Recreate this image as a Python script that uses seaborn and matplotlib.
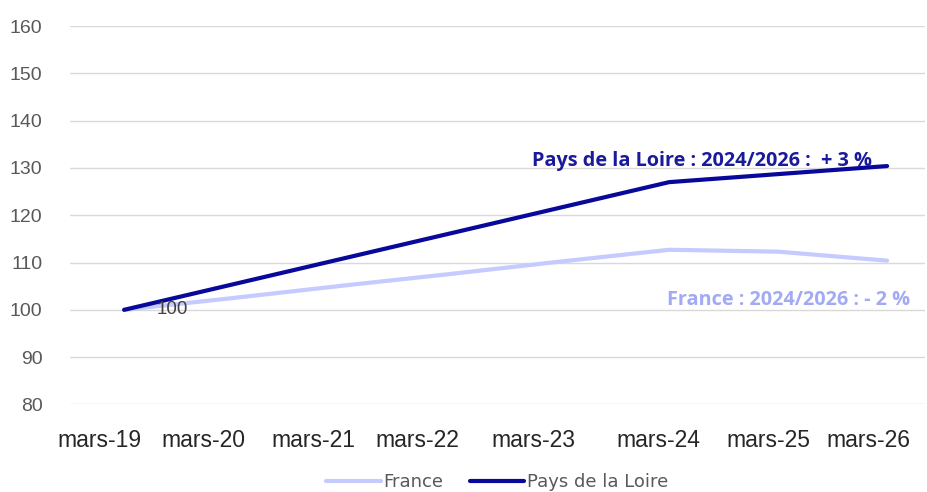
import pandas as pd
import matplotlib.pyplot as plt
import seaborn as sns

# données (indice base 100 en mars 2019)
annees = [2019, 2020, 2021, 2022, 2023, 2024, 2025, 2026]
france = [100, 102.5, 105.1, 107.6, 110.2, 112.7, 112.3, 110.4]
pdl = [100, 105.4, 110.8, 116.2, 121.6, 127.0, 128.7, 130.4]

labels_x = ['mars-19', 'mars-20', 'mars-21', 'mars-22', 'mars-23',
            'mars-24', 'mars-25', 'mars-26']
pos_x = [2018.77, 2019.73, 2020.74, 2021.69, 2022.76, 2023.9, 2024.91, 2025.83]

df = pd.DataFrame({
    'annee': annees * 2,
    'indice': france + pdl,
    'serie': ['France'] * len(annees) + ['Pays de la Loire'] * len(annees),
})

couleurs = {'France': '#C5CAFF', 'Pays de la Loire': '#08089A'}

sns.set_style('white')
plt.rcParams['font.family'] = ['Liberation Sans', 'DejaVu Sans']

fig, ax = plt.subplots(figsize=(9.28, 4.92), dpi=100)
fig.subplots_adjust(left=0.075, right=0.997, top=0.947, bottom=0.178)

sns.lineplot(data=df, x='annee', y='indice', hue='serie', palette=couleurs,
             linewidth=3, ax=ax)

ax.set_ylim(80, 160)
ax.set_yticks(range(80, 161, 10))
ax.set_xlim(2018.5, 2026.35)
ax.set_xticks(pos_x)
ax.set_xticklabels(labels_x)
ax.grid(axis='y', color='#D9D9D9', linewidth=1)
ax.set_axisbelow(True)
for s in ax.spines.values():
    s.set_visible(False)
ax.tick_params(axis='y', colors='#595959', labelsize=14, length=0, pad=19.5)
ax.tick_params(axis='x', colors='#262626', labelsize=16.5, length=0, pad=18)
ax.set_xlabel('')
ax.set_ylabel('')

ax.text(2019.3, 100, '100', color='#404040', fontsize=13.5, va='center')
ax.text(2022.74, 131.4, 'Pays de la Loire : 2024/2026 :  + 3 %',
        color='#1A1A9A', fontsize=14.3, fontweight='bold', va='center',
        family=['Open Sans', 'DejaVu Sans'])
ax.text(2023.98, 102.0, 'France : 2024/2026 : - 2 %',
        color='#A3AAF5', fontsize=14.3, fontweight='bold', va='center',
        family=['Open Sans', 'DejaVu Sans'])

leg = ax.legend(loc='center', bbox_to_anchor=(0.5, -0.205), ncol=2,
                frameon=False, handlelength=3.0, handletextpad=0.15,
                columnspacing=1.5,
                prop={'family': ['DejaVu Sans'], 'size': 13})
for t in leg.get_texts():
    t.set_color('#595959')

fig.savefig('out.png')
